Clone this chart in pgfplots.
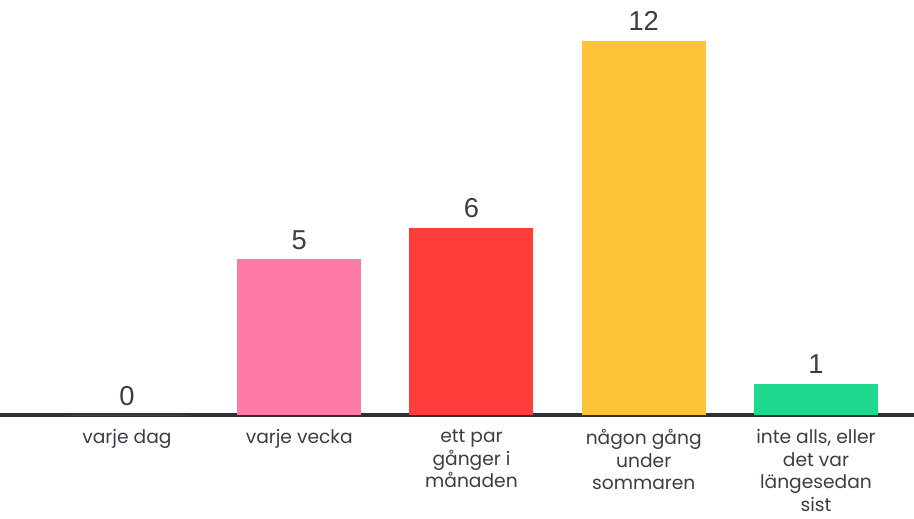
\documentclass[border=0pt]{standalone}
\usepackage{pgfplots}
\pgfplotsset{compat=1.18}
\usepackage{fontspec}
\setmainfont{Poppins}
\newfontfamily\numfont{Liberation Sans}
\definecolor{txt}{HTML}{3A3D46}
\definecolor{axl}{HTML}{2E3139}
\definecolor{cpink}{HTML}{FF7BA7}
\definecolor{cred}{HTML}{FF3D3A}
\definecolor{cyel}{HTML}{FFC33A}
\definecolor{cgreen}{HTML}{1ED88E}
\begin{document}
\begin{tikzpicture}[x=1pt,y=1pt]
\path[use as bounding box] (0,-77.25) rectangle (685.5,311.25);
\begin{axis}[
  at={(0,0)}, anchor=south west,
  scale only axis, width=685.5pt, height=311.25pt,
  xmin=-0.737, xmax=4.569, ymin=0, ymax=13.31,
  axis x line=bottom, axis y line=none,
  x axis line style={-, draw=axl, line width=2.6pt},
  ybar, bar width=93pt, bar shift=0pt,
  xtick={0,1,2,3,4}, major tick length=0pt,
  xticklabels={varje dag, varje vecka, {ett par\\gånger i\\månaden}, {någon gång\\under\\sommaren}, {inte alls, eller\\det var\\längesedan\\sist}},
  xticklabel style={anchor=north, align=center, inner sep=0pt, yshift=-10.8pt, text=txt, font=\fontsize{14}{16.9}\selectfont},
  nodes near coords,
  every node near coord/.append style={anchor=base, yshift=7.5pt, inner sep=0pt, text=txt, font=\numfont\fontsize{20.5}{24}\selectfont, /pgf/number format/assume math mode=true},
  clip=false,
]
\addplot[draw=none, fill=cpink] coordinates {(0,0)};
\addplot[draw=none, fill=cpink] coordinates {(1,5)};
\addplot[draw=none, fill=cred] coordinates {(2,6)};
\addplot[draw=none, fill=cyel] coordinates {(3,12)};
\addplot[draw=none, fill=cgreen] coordinates {(4,1)};
\end{axis}
\end{tikzpicture}
\end{document}
